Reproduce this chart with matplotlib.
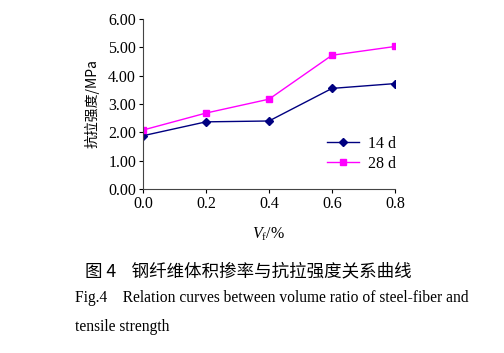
import matplotlib
matplotlib.use('Agg')
import matplotlib.pyplot as plt

# Datos
vf = [0.0, 0.2, 0.4, 0.6, 0.8]
fuerza_14d = [1.88, 2.37, 2.40, 3.55, 3.72]
fuerza_28d = [2.08, 2.68, 3.17, 4.72, 5.03]
yticks = [0, 1, 2, 3, 4, 5, 6]
xticks = [0.0, 0.2, 0.4, 0.6, 0.8]

serif = ['Liberation Serif', 'Noto Sans CJK SC']
cjk = ['Noto Sans CJK SC', 'Liberation Serif']
plt.rcParams['font.family'] = serif
plt.rcParams['mathtext.fontset'] = 'custom'
plt.rcParams['mathtext.it'] = 'Liberation Serif:italic'
plt.rcParams['mathtext.rm'] = 'Liberation Serif'

fig = plt.figure(figsize=(5.04, 3.53), dpi=100)
ax = fig.add_axes([0.2837, 0.4646, 0.5, 0.4816])

ax.plot(vf, fuerza_14d, color='#000080', marker='D', markersize=4, lw=1, label='14 d')
ax.plot(vf, fuerza_28d, color='#FF00FF', marker='s', markersize=4.5, lw=1, label='28 d')

ax.set_xlim(0, 0.8)
ax.set_ylim(0, 6)
ax.set_xticks(xticks)
ax.set_xticklabels([f'{x:.1f}' for x in xticks])
ax.set_yticks(yticks)
ax.set_yticklabels([f'{y:.2f}' for y in yticks])
ax.tick_params(labelsize=11.5, length=3, width=0.8, direction='out', pad=2)
for s in ['top', 'right']:
    ax.spines[s].set_visible(False)
ax.spines['left'].set_linewidth(0.8)
ax.spines['bottom'].set_linewidth(0.8)
ax.spines['left'].set_color('#444444')
ax.spines['bottom'].set_color('#444444')
ax.patch.set_alpha(0)

ax.set_ylabel('抗拉强度/MPa', family=cjk, fontsize=10, labelpad=6)
ax.set_xlabel(r'$V_{\mathrm{f}}$/%', fontsize=11.5, labelpad=10)

ax.legend(loc='lower right', bbox_to_anchor=(1.03, 0.063), frameon=False,
          fontsize=11.5, handlelength=2.0, labelspacing=0.25, borderaxespad=0,
          handletextpad=0.6)

fig.text(0.168, 0.232, '图 4    钢纤维体积掺率与抗拉强度关系曲线', family=cjk, fontsize=12.6,
         va='center', ha='left')
fig.text(0.148, 0.155, 'Fig.4    Relation curves between volume ratio of steel-fiber and',
         fontsize=11.2, va='center', ha='left')
fig.text(0.148, 0.074, 'tensile strength', fontsize=11.2, va='center', ha='left')

fig.savefig('out.png', dpi=100)
